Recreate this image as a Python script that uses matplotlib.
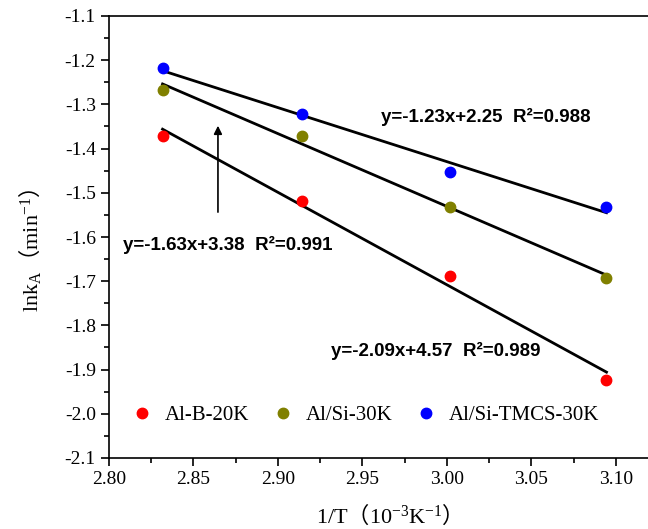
import matplotlib
matplotlib.use("Agg")
import matplotlib.pyplot as plt
from matplotlib.ticker import MultipleLocator, FormatStrFormatter
import numpy as np

# 1/T (10^-3 K^-1) and lnk_A values
inv_T = [2.8317, 2.9142, 3.0017, 3.0945]
lnk_alb = [-1.371, -1.519, -1.688, -1.924]
lnk_alsi = [-1.267, -1.371, -1.532, -1.693]
lnk_tmcs = [-1.218, -1.322, -1.453, -1.532]

labels = ["Al-B-20K", "Al/Si-30K", "Al/Si-TMCS-30K"]
colors = ["#ff0000", "#808000", "#0000ff"]
fit_text = ["y=-2.09x+4.57  R²=0.989",
            "y=-1.63x+3.38  R²=0.991",
            "y=-1.23x+2.25  R²=0.988"]
text_pos = [(2.9314, -1.858), (2.808, -1.618), (2.961, -1.328)]

serif = ["Liberation Serif", "Noto Sans CJK SC"]
plt.rcParams["mathtext.fontset"] = "custom"
plt.rcParams["mathtext.rm"] = "Liberation Serif"
plt.rcParams["mathtext.it"] = "Liberation Serif"
# fullwidth brackets come from the CJK font through \mathsf
plt.rcParams["mathtext.sf"] = "Noto Sans CJK SC"

fig = plt.figure(figsize=(6.48, 5.29), dpi=100)
ax = fig.add_axes([109 / 648, 71 / 529, 549 / 648, 442 / 529])

x = np.array(inv_T)
for ys, lab, c in zip([lnk_alb, lnk_alsi, lnk_tmcs], labels, colors):
    ax.plot(x, ys, "o", color=c, ms=7.5, label=lab, zorder=3)
    k, b = np.polyfit(x, ys, 1)
    ax.plot([x[0], x[-1]], k * np.array([x[0], x[-1]]) + b, color="black", lw=2, zorder=2)

for t, (tx, ty) in zip(fit_text, text_pos):
    ax.text(tx, ty, t, fontsize=13.5, fontweight="bold", family="Liberation Sans", va="center")

ax.annotate("", xy=(2.8645, -1.342), xytext=(2.8645, -1.55),
            arrowprops=dict(arrowstyle="-|>", color="black", lw=1.2, mutation_scale=12))

ax.set_xlim(2.80, 3.125)
ax.set_ylim(-2.1, -1.1)
ax.xaxis.set_major_locator(MultipleLocator(0.05))
ax.xaxis.set_minor_locator(MultipleLocator(0.025))
ax.yaxis.set_major_locator(MultipleLocator(0.1))
ax.yaxis.set_minor_locator(MultipleLocator(0.05))
ax.xaxis.set_major_formatter(FormatStrFormatter("%.2f"))
ax.yaxis.set_major_formatter(FormatStrFormatter("%.1f"))
ax.tick_params(which="major", direction="out", length=6, width=1.2, labelsize=14)
ax.tick_params(which="minor", direction="out", length=3.5, width=1.2)
ax.tick_params(top=False, right=False, which="both")
for lab in ax.get_xticklabels() + ax.get_yticklabels():
    lab.set_family(serif)
for s in ax.spines.values():
    s.set_linewidth(1.2)

ax.set_xlabel(r"1/T$\mathsf{（}$10$^{-3}$K$^{-1}$$\mathsf{）}$", family=serif, fontsize=16, labelpad=10)
ax.set_ylabel(r"lnk$_{\mathrm{A}}$$\mathsf{（}$min$^{-1}$$\mathsf{）}$", family=serif, fontsize=16)
ax.yaxis.set_label_coords(-0.12, 0.47)

ax.legend(loc="center left", bbox_to_anchor=(0.003, 0.096), ncol=3, frameon=False,
          prop={"family": serif, "size": 15}, handletextpad=0.5, columnspacing=1.0,
          handlelength=1.2)

fig.savefig("out.png", dpi=100)
